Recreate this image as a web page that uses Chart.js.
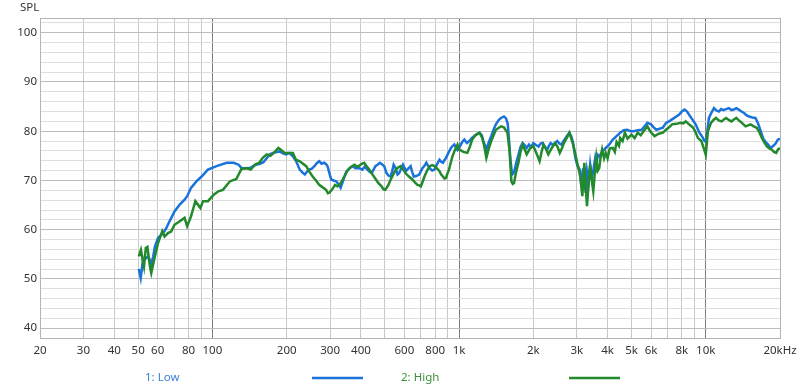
<!DOCTYPE html>
<html>
<head>
<meta charset="utf-8">
<script src="https://cdn.jsdelivr.net/npm/chart.js@4/dist/chart.umd.min.js"></script>
<style>
  html, body { margin: 0; padding: 0; background: #fff; }
  #wrap { width: 800px; height: 389px; position: relative; }
</style>
</head>
<body>
<div id="wrap"><canvas id="spl"></canvas></div>
<script>
// frequency axis ticks (grid lines) and the labels that are shown
const freqTicks = [20, 30, 40, 50, 60, 70, 80, 90, 100, 200, 300, 400, 500, 600, 700, 800, 900,
  1000, 2000, 3000, 4000, 5000, 6000, 7000, 8000, 9000, 10000, 20000];
const freqLabels = ['20', '30', '40', '50', '60', '', '80', '', '100', '200', '300', '400', '', '600', '', '800', '',
  '1k', '2k', '3k', '4k', '5k', '6k', '', '8k', '', '10k', '20kHz'];
const splTicks = [40, 42, 44, 46, 48, 50, 52, 54, 56, 58, 60, 62, 64, 66, 68, 70, 72, 74, 76, 78,
  80, 82, 84, 86, 88, 90, 92, 94, 96, 98, 100, 102];

const seriesNames = ['1: Low', '2: High'];

// [Hz, dB]
const lowCurve = [
  [50.3, 52.0], [51.2, 50.2], [52.3, 53.9], [53.7, 54.2], [55, 54.6], [56.5, 53.0], [57.5, 54.5], [58.5, 56.6],
  [60.2, 58.3], [63.1, 59.3], [65, 60.3], [67, 61.7], [70.2, 63.7], [73.7, 65.1], [77.1, 66.1], [79, 66.8],
  [81.9, 68.5], [86.1, 69.8], [90.4, 70.8], [95.9, 72.2], [103.9, 72.9], [114.3, 73.6], [121.9, 73.6],
  [127.6, 73.2], [131.4, 72.5], [137, 72.5], [143, 72.6], [150, 73.2], [156, 73.4], [161, 73.7], [166, 74.5],
  [171, 75.3], [176, 75.6], [187, 75.9], [193, 75.5], [199, 75.3], [205, 75.6], [212, 74.9], [218, 74.0],
  [226, 72.2], [232, 71.6], [237, 71.2], [242, 71.8], [247, 72.2], [253, 72.4], [259, 72.9], [265, 73.5],
  [271, 73.9], [277, 73.4], [284, 73.6], [289, 73.3], [293, 72.9], [298, 71.5], [303, 70.2], [310, 70.0],
  [318, 69.8], [325, 69.2], [331, 68.5], [337, 69.6], [343, 70.8], [349, 71.8], [355, 72.2], [362, 72.6],
  [371, 72.9], [380, 72.5], [394, 72.5], [405, 72.2], [415, 72.8], [425, 72.2], [433, 71.8], [442, 71.5],
  [450, 72.2], [458, 72.9], [467, 73.2], [477, 73.6], [487, 73.3], [497, 72.9], [508, 71.5], [517, 71.0],
  [527, 70.8], [535, 71.8], [543, 73.2], [553, 72.5], [563, 71.2], [572, 71.5], [582, 72.4], [592, 73.2],
  [600, 72.6], [609, 71.9], [622, 72.4], [636, 72.9], [645, 71.8], [655, 70.8], [670, 70.9], [689, 71.2],
  [700, 71.9], [710, 72.5], [724, 73.0], [737, 73.6], [748, 73.0], [760, 72.5], [778, 72.0], [795, 72.2],
  [812, 73.2], [833, 74.2], [846, 73.8], [860, 73.6], [872, 74.1], [885, 74.6], [905, 75.6], [927, 76.6],
  [941, 77.0], [956, 77.3], [970, 76.8], [985, 76.2], [1000, 76.6], [1030, 77.8], [1050, 78.3], [1075, 77.6],
  [1100, 78.0], [1125, 78.6], [1150, 79.0], [1180, 79.4], [1210, 79.7], [1235, 79.2], [1255, 78.0],
  [1290, 76.3], [1320, 77.8], [1350, 79.0], [1380, 80.3], [1410, 81.4], [1450, 82.3], [1480, 82.7],
  [1520, 83.0], [1550, 82.6], [1575, 81.5], [1590, 79.0], [1605, 76.0], [1620, 73.6], [1640, 71.2],
  [1660, 71.4], [1680, 72.2], [1710, 73.8], [1740, 75.2], [1775, 76.8], [1810, 77.6], [1845, 77.2],
  [1880, 76.6], [1920, 77.3], [1960, 76.8], [2000, 77.6], [2050, 77.2], [2100, 76.9], [2140, 77.5],
  [2180, 77.6], [2230, 76.8], [2280, 76.3], [2310, 77.0], [2350, 77.6], [2400, 77.2], [2450, 77.6],
  [2500, 78.0], [2550, 77.5], [2600, 77.3], [2650, 78.0], [2700, 78.6], [2750, 79.2], [2800, 79.7],
  [2850, 79.0], [2900, 77.6], [2960, 74.6], [3020, 73.0], [3100, 72.0], [3130, 69.0], [3160, 68.8],
  [3190, 72.5], [3220, 70.0], [3260, 67.5], [3300, 71.8], [3350, 69.5], [3400, 73.2], [3450, 70.5],
  [3500, 72.0], [3560, 74.4], [3600, 73.0], [3650, 75.2], [3700, 74.9], [3800, 75.8], [3930, 76.6],
  [4050, 77.2], [4200, 78.3], [4350, 79.0], [4500, 79.7], [4650, 80.2], [4800, 80.3], [4950, 80.0],
  [5100, 80.0], [5300, 80.2], [5500, 80.3], [5650, 81.0], [5800, 81.7], [6000, 81.4], [6150, 80.8],
  [6300, 80.3], [6500, 80.5], [6700, 80.7], [6900, 81.7], [7100, 82.0], [7300, 82.4], [7550, 82.9],
  [7800, 83.4], [8000, 84.0], [8200, 84.4], [8400, 84.0], [8600, 83.2], [8850, 82.3], [9100, 81.4],
  [9400, 79.8], [9700, 78.8], [9900, 78.0], [10050, 77.8], [10150, 80.0], [10300, 82.7], [10550, 83.8],
  [10800, 84.7], [11050, 84.2], [11300, 84.0], [11550, 84.5], [11800, 84.3], [12100, 84.5], [12400, 84.7],
  [12700, 84.3], [13000, 84.4], [13300, 84.7], [13600, 84.4], [13950, 84.0], [14300, 83.7], [14650, 83.2],
  [15000, 83.0], [15450, 82.8], [15900, 82.7], [16300, 81.6], [16700, 80.0], [17100, 78.5], [17500, 77.8],
  [17900, 77.3], [18300, 76.6], [18750, 77.0], [19200, 77.5], [19600, 78.3], [20000, 78.5]
];

const highCurve = [
  [50.3, 54.6], [51.3, 55.9], [52.1, 54.0], [52.8, 52.5], [53.7, 56.3], [54.5, 56.5], [55.3, 54.0],
  [56.1, 51.9], [56.5, 51.2], [57.5, 53.0], [58.5, 54.6], [60.2, 57.3], [62.6, 59.7], [64, 58.6], [66, 59.3],
  [68, 59.6], [70.2, 61.0], [73.7, 61.7], [77.1, 62.4], [79, 60.7], [81.9, 62.7], [85.3, 65.8], [89.4, 64.4],
  [91.6, 65.8], [95.9, 65.8], [101.3, 67.1], [105.7, 67.8], [110.3, 68.1], [117.6, 69.8], [125, 70.3],
  [131, 72.3], [137, 72.5], [143, 72.2], [148.5, 73.2], [155, 73.6], [160, 74.6], [166, 75.3], [172, 75.0],
  [179, 75.8], [185, 76.6], [190, 76.2], [196, 75.6], [204, 75.6], [212, 75.6], [218, 74.2], [226, 73.9],
  [233, 73.4], [240, 72.9], [247, 71.8], [255, 70.8], [263, 70.0], [271, 69.1], [280, 68.6], [289, 68.1],
  [294, 67.4], [298, 67.5], [306, 68.2], [314, 69.1], [321, 68.8], [328, 69.1], [335, 69.9], [343, 70.8],
  [351, 71.8], [360, 72.5], [368, 72.9], [377, 73.2], [386, 72.8], [394, 73.0], [403, 73.4], [412, 73.6],
  [422, 72.9], [433, 72.2], [446, 71.2], [460, 70.2], [472, 69.4], [485, 68.8], [494, 68.2], [502, 68.1],
  [510, 68.6], [517, 69.1], [526, 70.0], [536, 70.8], [548, 71.8], [561, 72.5], [570, 72.7], [578, 72.9],
  [592, 72.3], [606, 71.5], [626, 70.8], [647, 70.2], [662, 69.6], [678, 69.1], [690, 69.0], [700, 68.8],
  [712, 69.8], [724, 70.8], [742, 72.0], [760, 72.9], [778, 73.1], [795, 72.9], [815, 72.4], [833, 71.9],
  [846, 71.2], [860, 70.8], [872, 70.4], [885, 70.5], [897, 71.4], [910, 72.2], [925, 73.6], [940, 74.9],
  [962, 76.2], [985, 77.3], [1000, 76.3], [1040, 75.8], [1080, 75.6], [1105, 76.8], [1130, 78.3],
  [1165, 79.2], [1210, 79.7], [1240, 78.7], [1265, 77.0], [1290, 74.6], [1320, 76.5], [1350, 78.0],
  [1380, 79.2], [1410, 80.3], [1450, 80.7], [1480, 81.0], [1520, 80.8], [1570, 79.7], [1600, 76.3],
  [1630, 69.8], [1650, 69.3], [1670, 69.5], [1700, 71.5], [1740, 73.6], [1775, 75.8], [1810, 77.3],
  [1845, 76.3], [1880, 75.3], [1940, 76.5], [2000, 77.0], [2060, 75.5], [2120, 73.9], [2160, 75.8],
  [2200, 77.3], [2250, 76.4], [2300, 75.3], [2370, 76.5], [2450, 77.6], [2510, 76.8], [2560, 75.6],
  [2610, 76.5], [2660, 77.6], [2730, 78.6], [2800, 79.7], [2850, 78.5], [2900, 77.3], [2960, 75.3],
  [3030, 73.0], [3100, 70.8], [3160, 66.8], [3220, 73.6], [3260, 69.0], [3300, 64.8], [3350, 69.5],
  [3400, 73.2], [3450, 70.0], [3500, 67.8], [3550, 71.5], [3600, 74.6], [3650, 72.0], [3700, 72.5],
  [3750, 74.8], [3800, 76.3], [3870, 74.5], [3930, 75.6], [4000, 74.5], [4080, 76.5], [4200, 76.6],
  [4280, 75.8], [4350, 77.8], [4450, 77.0], [4500, 78.6], [4600, 78.0], [4700, 79.7], [4820, 78.5],
  [5000, 79.3], [5150, 78.6], [5300, 79.7], [5450, 79.2], [5600, 80.0], [5800, 81.0], [5950, 80.0],
  [6200, 79.0], [6450, 79.5], [6700, 79.7], [6900, 80.3], [7100, 80.8], [7300, 81.4], [7600, 81.5],
  [7900, 81.7], [8100, 81.6], [8300, 82.0], [8600, 81.3], [8900, 80.7], [9100, 79.8], [9300, 78.6],
  [9600, 78.0], [9850, 76.3], [10000, 75.2], [10100, 77.5], [10200, 80.0], [10500, 81.7], [10750, 82.3],
  [11000, 82.7], [11300, 82.2], [11600, 82.0], [11850, 82.4], [12100, 82.7], [12400, 82.3], [12700, 82.0],
  [13000, 82.4], [13300, 82.7], [13550, 82.3], [13800, 82.0], [14150, 81.5], [14500, 81.0], [14850, 81.2],
  [15200, 81.4], [15650, 81.0], [16100, 80.7], [16500, 79.8], [16900, 78.6], [17300, 77.7], [17700, 76.9],
  [18100, 76.5], [18500, 76.3], [18900, 75.8], [19300, 75.6], [19650, 76.3], [20000, 76.6]
];

const BLUE = '#1a72dc';
const GREEN = '#228a2c';
const FONT = { family: "'Noto Sans', 'Open Sans', sans-serif", size: 11.5 };

const toPoints = (curve) => curve.map(([f, db]) => ({ x: f, y: db }));

// frame round the plot, the "SPL" title and the legend row at the bottom
const decorations = {
  id: 'decorations',
  afterDraw(chart) {
    const { ctx, chartArea: a } = chart;
    ctx.save();
    ctx.strokeStyle = '#b4b4b4';
    ctx.lineWidth = 1;
    ctx.strokeRect(Math.round(a.left) + 0.5, Math.round(a.top) + 0.5,
      Math.round(a.right - a.left), Math.round(a.bottom - a.top));

    ctx.font = `${FONT.size}px ${FONT.family}`;
    ctx.textBaseline = 'middle';
    ctx.fillStyle = '#333';
    ctx.textAlign = 'left';
    ctx.fillText('SPL', 20, 8);

    const legend = [
      { text: seriesNames[0], textColor: '#3a82d6', line: BLUE, tx: 145, lx: 312 },
      { text: seriesNames[1], textColor: '#3b913b', line: GREEN, tx: 401, lx: 569 },
    ];
    legend.forEach((l) => {
      ctx.fillStyle = l.textColor;
      ctx.fillText(l.text, l.tx, 378);
      ctx.strokeStyle = l.line;
      ctx.lineWidth = 2.5;
      ctx.beginPath();
      ctx.moveTo(l.lx, 378);
      ctx.lineTo(l.lx + 51, 378);
      ctx.stroke();
    });
    ctx.restore();
  },
};

new Chart(document.getElementById('spl'), {
  type: 'line',
  data: {
    datasets: [
      {
        label: seriesNames[0],
        data: toPoints(lowCurve),
        borderColor: BLUE,
        borderWidth: 2.5,
        pointRadius: 0,
        tension: 0,
        order: 2,
      },
      {
        label: seriesNames[1],
        data: toPoints(highCurve),
        borderColor: GREEN,
        borderWidth: 2.5,
        pointRadius: 0,
        tension: 0,
        order: 1,
      },
    ],
  },
  options: {
    responsive: true,
    maintainAspectRatio: false,
    animation: false,
    layout: { padding: { left: 0, top: 18, right: 20, bottom: 0 } },
    plugins: { legend: { display: false }, tooltip: { enabled: false } },
    scales: {
      x: {
        type: 'logarithmic',
        min: 20,
        max: 20000,
        afterBuildTicks: (scale) => { scale.ticks = freqTicks.map((v) => ({ value: v })); },
        afterFit: (scale) => {
          scale.height = 51;
          scale.paddingLeft = 0;
          scale.paddingRight = 0;
        },
        border: { display: false },
        grid: {
          drawTicks: false,
          color: (c) => ([100, 1000, 10000].includes(c.tick && c.tick.value) ? '#7a7a7a' : '#c8c8c8'),
        },
        ticks: {
          autoSkip: false,
          maxRotation: 0,
          padding: 6,
          color: '#333',
          font: FONT,
          callback: (v, i) => freqLabels[i],
        },
      },
      y: {
        min: 38,
        max: 103,
        afterBuildTicks: (scale) => { scale.ticks = splTicks.map((v) => ({ value: v })); },
        afterFit: (scale) => {
          scale.width = 40;
          scale.paddingTop = 0;
          scale.paddingBottom = 0;
        },
        border: { display: false },
        grid: {
          drawTicks: false,
          color: (c) => (c.tick && c.tick.value % 10 === 0 ? '#bdbdbd' : '#dddddd'),
        },
        ticks: {
          autoSkip: false,
          padding: 3,
          color: '#333',
          font: FONT,
          callback: (v) => (v % 10 === 0 ? String(v) : ''),
        },
      },
    },
  },
  plugins: [decorations],
});
</script>
</body>
</html>
